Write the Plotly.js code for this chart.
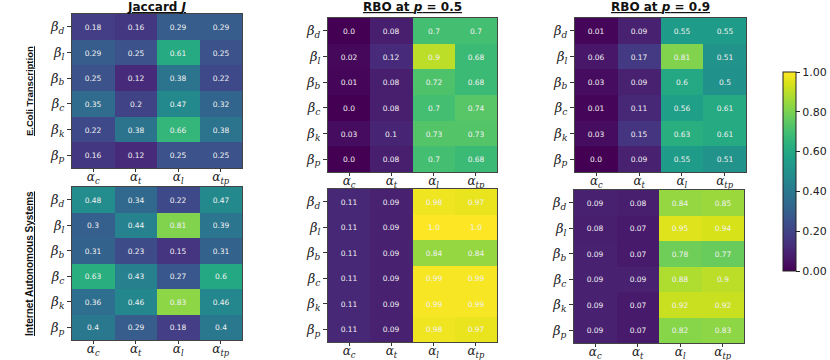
<!DOCTYPE html>
<html>
<head>
<meta charset="utf-8">
<script src="https://cdn.plot.ly/plotly-3.0.1.min.js"></script>
<style>
  html, body { margin: 0; padding: 0; background: #fff; }
  #chart { width: 830px; height: 360px; }
</style>
</head>
<body>
<div id="chart"></div>
<script>
// rows: beta_d, beta_l, beta_b, beta_c, beta_k, beta_p ; cols: alpha_c, alpha_t, alpha_l, alpha_tp
const colNames = ['c', 't', 'l', 'tp'];
const rowNames = ['d', 'l', 'b', 'c', 'k', 'p'];

const ecoliJaccard = [
    [0.18, 0.16, 0.29, 0.29],
    [0.29, 0.25, 0.61, 0.25],
    [0.25, 0.12, 0.38, 0.22],
    [0.35, 0.2, 0.47, 0.32],
    [0.22, 0.38, 0.66, 0.38],
    [0.16, 0.12, 0.25, 0.25]
];
const ecoliRbo5 = [
    [0.0, 0.08, 0.7, 0.7],
    [0.02, 0.12, 0.9, 0.68],
    [0.01, 0.08, 0.72, 0.68],
    [0.0, 0.08, 0.7, 0.74],
    [0.03, 0.1, 0.73, 0.73],
    [0.0, 0.08, 0.7, 0.68]
];
const ecoliRbo9 = [
    [0.01, 0.09, 0.55, 0.55],
    [0.06, 0.17, 0.81, 0.51],
    [0.03, 0.09, 0.6, 0.5],
    [0.01, 0.11, 0.56, 0.61],
    [0.03, 0.15, 0.63, 0.61],
    [0.0, 0.09, 0.55, 0.51]
];
const asJaccard = [
    [0.48, 0.34, 0.22, 0.47],
    [0.3, 0.44, 0.81, 0.39],
    [0.31, 0.23, 0.15, 0.31],
    [0.63, 0.43, 0.27, 0.6],
    [0.36, 0.46, 0.83, 0.46],
    [0.4, 0.29, 0.18, 0.4]
];
const asRbo5 = [
    [0.11, 0.09, 0.98, 0.97],
    [0.11, 0.09, 1.0, 1.0],
    [0.11, 0.09, 0.84, 0.84],
    [0.11, 0.09, 0.99, 0.99],
    [0.11, 0.09, 0.99, 0.99],
    [0.11, 0.09, 0.98, 0.97]
];
const asRbo9 = [
    [0.09, 0.08, 0.84, 0.85],
    [0.08, 0.07, 0.95, 0.94],
    [0.09, 0.07, 0.78, 0.77],
    [0.09, 0.09, 0.88, 0.9],
    [0.09, 0.07, 0.92, 0.92],
    [0.09, 0.07, 0.82, 0.83]
];

const panelTitles = [
    '<u><b>Jaccard <i>J</i></b></u>',
    '<u><b>RBO at <i>p</i> = 0.5</b></u>',
    '<u><b>RBO at <i>p</i> = 0.9</b></u>'
];

// panel boxes in pixels: [left, right, top, bottom]
const boxes = [
    [72, 242, 14, 168], [328, 497, 18, 172], [575, 746, 18, 172],
    [72, 242, 187, 340], [328, 497, 189, 342], [574, 744, 190, 343]
];

const W = 830, H = 360;
const matrices = [ecoliJaccard, ecoliRbo5, ecoliRbo9, asJaccard, asRbo5, asRbo9];

// python-style str() of a float
function fmt(v) {
    return Number.isInteger(v) ? v.toFixed(1) : String(v);
}

const xTicks = colNames.map(s => '<i>α<sub>' + s + '</sub></i>');
const yTicks = rowNames.map(s => '<i>β<sub>' + s + '</sub></i>');

const traces = [];
const layout = {
    width: W, height: H,
    margin: {l: 0, r: 0, t: 0, b: 0},
    paper_bgcolor: 'white',
    plot_bgcolor: 'white',
    font: {family: 'DejaVu Sans', size: 11, color: '#222'},
    annotations: []
};

matrices.forEach((z, i) => {
    const n = i + 1;
    const b = boxes[i];
    traces.push({
        type: 'heatmap',
        z: z,
        x: [0, 1, 2, 3],
        y: [0, 1, 2, 3, 4, 5],
        text: z.map(r => r.map(fmt)),
        texttemplate: '%{text}',
        textfont: {family: 'DejaVu Sans', size: 7.5, color: '#f2f2f2'},
        colorscale: 'Viridis',
        zmin: 0, zmax: 1,
        xaxis: 'x' + (n === 1 ? '' : n),
        yaxis: 'y' + (n === 1 ? '' : n),
        showscale: i === 0,
        hoverinfo: 'skip',
        colorbar: {
            x: 783 / W, xanchor: 'left',
            y: 1 - 171.5 / H, yanchor: 'middle',
            len: 199, lenmode: 'pixels',
            thickness: 13, thicknessmode: 'pixels',
            xpad: 0, ypad: 0,
            outlinewidth: 1, outlinecolor: '#222',
            ticks: 'outside', ticklen: 4, tickcolor: '#222',
            tickvals: [0, 0.2, 0.4, 0.6, 0.8, 1.0],
            tickformat: '.2f',
            tickfont: {family: 'DejaVu Sans', size: 11, color: '#222'}
        }
    });
    const ax = {
        domain: [b[0] / W, b[1] / W],
        anchor: 'y' + (n === 1 ? '' : n),
        tickvals: [0, 1, 2, 3], ticktext: xTicks,
        ticks: 'outside', ticklen: 3, tickcolor: '#333',
        ticklabelstandoff: -5,
        tickfont: {family: 'DejaVu Serif', size: 12, color: '#222'},
        showline: true, mirror: true, linecolor: '#444', linewidth: 1,
        showgrid: false, zeroline: false, fixedrange: true
    };
    const ay = {
        domain: [1 - b[3] / H, 1 - b[2] / H],
        anchor: 'x' + (n === 1 ? '' : n),
        tickvals: [0, 1, 2, 3, 4, 5], ticktext: yTicks,
        autorange: 'reversed',
        ticks: 'outside', ticklen: 4, tickcolor: '#333',
        tickfont: {family: 'DejaVu Serif', size: 13, color: '#222'},
        showline: true, mirror: true, linecolor: '#444', linewidth: 1,
        showgrid: false, zeroline: false, fixedrange: true
    };
    layout['xaxis' + (n === 1 ? '' : n)] = ax;
    layout['yaxis' + (n === 1 ? '' : n)] = ay;

    if (i < 3) {
        layout.annotations.push({
            text: panelTitles[i],
            xref: 'paper', yref: 'paper',
            x: (b[0] + b[1]) / 2 / W, y: 1 - 7 / H,
            xanchor: 'center', yanchor: 'middle',
            showarrow: false,
            font: {family: 'DejaVu Sans', size: 12, color: '#111'}
        });
    }
});

// dataset labels on the left
const rowLabels = ['<u><b>E.Coli Transcription</b></u>', '<u><b>Internet Autonomous Systems</b></u>'];
const rowLabelY = [91, 264];
const rowLabelSize = [9.5, 10];
rowLabels.forEach((t, k) => {
    layout.annotations.push({
        text: t,
        xref: 'paper', yref: 'paper',
        x: 29 / W, y: 1 - rowLabelY[k] / H,
        xanchor: 'center', yanchor: 'middle',
        textangle: -90,
        showarrow: false,
        font: {family: 'Liberation Sans Narrow, Liberation Sans', size: rowLabelSize[k], color: '#111'}
    });
});

Plotly.newPlot('chart', traces, layout, {displayModeBar: false, staticPlot: true});
</script>
</body>
</html>
